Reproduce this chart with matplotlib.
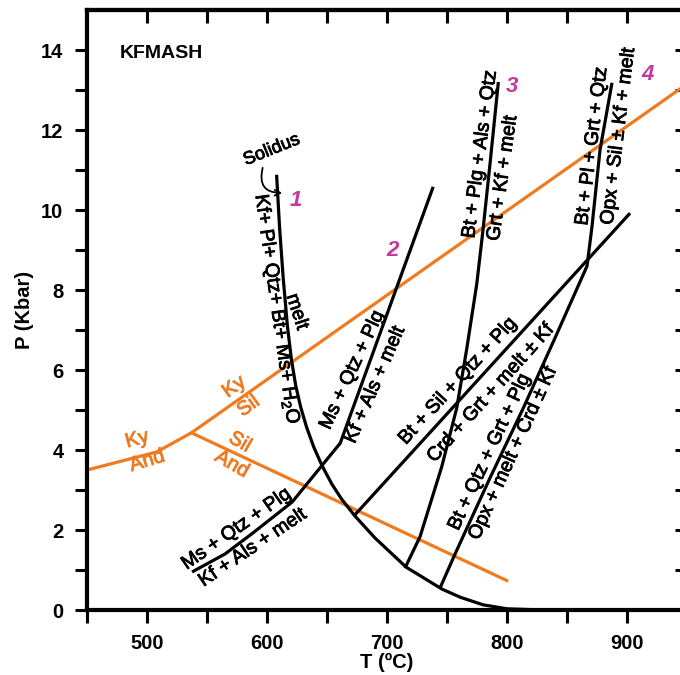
import matplotlib.pyplot as plt
import matplotlib.patheffects as pe
import numpy as np

plt.rcParams['font.family'] = ['Liberation Sans', 'DejaVu Sans']
plt.rcParams['mathtext.default'] = 'regular'

# aluminosilicate boundaries (T in C, P in kbar)
ky_and_T = [450, 508, 537]
ky_and_P = [3.5, 3.95, 4.43]
ky_sil_T = [537, 950]
ky_sil_P = [4.43, 13.15]
sil_and_T = [537, 801]
sil_and_P = [4.43, 0.72]

# curve 1, solidus
sol_T = [608, 610.5, 613.5, 617, 620.4, 624, 628, 633, 639, 646, 654, 662, 673, 690, 716, 746, 761, 780, 800, 830]
sol_P = [10.88, 9.55, 8.3, 7.1, 6.25, 5.6, 5.08, 4.57, 4.07, 3.6, 3.15, 2.78, 2.36, 1.8, 1.07, 0.52, 0.32, 0.13, 0.03, 0.0]

# curve 2, Ms + Qtz + Plg = Kf + Als + melt
c2_T = [537.5, 565, 588, 621, 646, 661, 738.5]
c2_P = [0.95, 1.4, 1.92, 2.7, 3.62, 4.17, 10.58]

# curve 3, Bt + Plg + Als + Qtz = Grt + Kf + melt
c3_T = [715, 727.5, 745.6, 758.1, 766.3, 774.8, 780, 786, 792.8]
c3_P = [1.05, 1.83, 3.58, 5.05, 6.5, 8.15, 9.5, 11.2, 13.2]

# Bt + Sil + Qtz + Plg = Crd + Grt + melt +- Kf
bs_T = [673, 902.5]
bs_P = [2.37, 9.92]

# curve 4, Bt + Qtz + Grt + Plg = Opx + melt + Crd +- Kf (and its upper branch)
c4_T = [744.2, 756.7, 785.8, 813.3, 840, 866.7, 870.8, 877.5, 887.5]
c4_P = [0.55, 1.4, 3.3, 5.03, 6.8, 8.6, 9.58, 11.5, 13.18]

orange = '#ef7b21'
pink = '#c13b9f'
lw = 2.3

fig = plt.figure(figsize=(6.8, 6.75), dpi=100)
ax = fig.add_axes([87/680, 65/675, 600/680, 600/675])

ax.plot(ky_and_T, ky_and_P, color=orange, lw=lw, solid_capstyle='butt')
ax.plot(ky_sil_T, ky_sil_P, color=orange, lw=lw)
ax.plot(sil_and_T, sil_and_P, color=orange, lw=lw, solid_capstyle='butt')

for T, P in [(sol_T, sol_P), (c2_T, c2_P), (c3_T, c3_P), (bs_T, bs_P), (c4_T, c4_P)]:
    ax.plot(T, P, color='black', lw=lw, solid_capstyle='butt', solid_joinstyle='round')

ax.set_xlim(450, 950)
ax.set_ylim(0, 15)

# axes frame
for s in ax.spines.values():
    s.set_linewidth(3)
ax.set_xticks([500, 600, 700, 800, 900])
ax.set_xticks([450, 550, 650, 750, 850], minor=True)
ax.set_yticks([0, 2, 4, 6, 8, 10, 12, 14])
ax.set_yticks([1, 3, 5, 7, 9, 11, 13], minor=True)
ax.tick_params(which='both', direction='out', length=9, width=2.2, pad=8,
               labelsize=14.5)
for t in ax.get_xticklabels() + ax.get_yticklabels():
    t.set_fontweight('bold')

top = ax.secondary_xaxis('top')
top.set_xticks(np.arange(500, 950, 50))
top.tick_params(direction='in', length=9, width=2.2, labeltop=False)
right = ax.secondary_yaxis('right')
right.set_yticks(np.arange(1, 15, 1))
right.tick_params(direction='in', length=9, width=2.2, labelright=False)
top.spines['top'].set_linewidth(3)
right.spines['right'].set_linewidth(3)

ax.set_xlabel('T (ºC)', fontsize=14.5, fontweight='bold', labelpad=0)
ax.set_ylabel('P (Kbar)', fontsize=14.5, fontweight='bold', labelpad=5)

ax.text(477.5, 13.9, 'KFMASH', fontsize=14, fontweight='bold', va='center')

def lab(x, y, s, rot, color='black', size=14):
    ax.text(x, y, s, rotation=rot, rotation_mode='anchor', ha='center', va='center',
            color=color, fontsize=size,
            path_effects=[pe.withStroke(linewidth=0.6, foreground=color)])

# solidus labels
lab(604, 11.5, 'Solidus', 22, size=13)
ax.annotate('', xy=(615, 10.43), xytext=(597, 11.12),
            arrowprops=dict(arrowstyle='->', lw=1.3, connectionstyle='arc3,rad=0.7'))
lab(607.5, 7.5, 'Kf+ Pl+ Qtz+ Bt+ Ms+ H$_2$O', -82)
lab(624.5, 7.45, 'melt', -72)

# curve 2
lab(575, 2.02, 'Ms + Qtz + Plg', 35)
lab(588.5, 1.55, 'Kf + Als + melt', 34)
lab(671.5, 6.0, 'Ms + Qtz + Plg', 65)
lab(690.5, 5.63, 'Kf + Als + melt', 66.5)

# curve 3
lab(778.0, 11.4, 'Bt + Plg + Als + Qtz', 82.5)
lab(796.8, 10.8, 'Grt + Kf + melt', 82)

# Bt + Sil line
lab(759.5, 5.72, 'Bt + Sil + Qtz + Plg', 47.5)
lab(787, 5.42, 'Crd + Grt + melt ± Kf', 48)

# curve 4
lab(786, 3.95, 'Bt + Qtz + Grt + Plg', 65)
lab(805.5, 3.92, 'Opx + melt + Crd ± Kf', 65.5)
lab(871.2, 11.6, 'Bt + Pl + Grt + Qtz', 83)
lab(893.3, 11.85, 'Opx + Sil ± Kf + melt', 83)

# aluminosilicate labels
lab(491.7, 4.27, 'Ky', 15, orange, 14.5)
lab(500, 3.73, 'And', 17, orange, 14.5)
lab(577.5, 4.2, 'Sil', -30, orange, 14.5)
lab(570.8, 3.65, 'And', -30, orange, 14.5)
lab(572.5, 5.58, 'Ky', 36, orange, 14.5)
lab(584.5, 5.1, 'Sil', 36, orange, 14.5)

# reaction numbers
for x, y, s in [(624, 10.25, '1'), (705, 9.0, '2'), (804, 13.1, '3'), (917, 13.4, '4')]:
    ax.text(x, y, s, color=pink, fontsize=16, fontweight='bold', fontstyle='italic',
            ha='center', va='center')

fig.savefig('out.png', dpi=100)
